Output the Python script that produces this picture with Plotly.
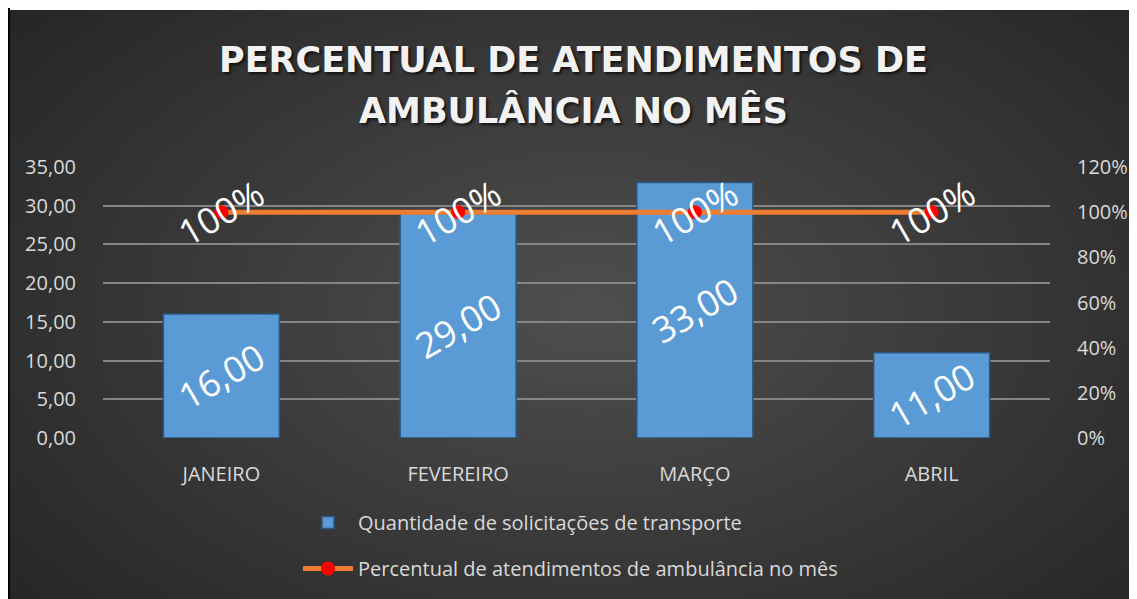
import plotly.graph_objects as go

# Chart data
months = ['JANEIRO', 'FEVEREIRO', 'MARÇO', 'ABRIL']
solicitacoes = [16, 29, 33, 11]
percentual = [1.0, 1.0, 1.0, 1.0]

bar_name = 'Quantidade de solicitações de transporte'
line_name = 'Percentual de atendimentos de ambulância no mês'
title_lines = ['PERCENTUAL DE ATENDIMENTOS DE', 'AMBULÂNCIA NO MÊS']

# Geometry: the page puts the figure 8px in from the top-left corner,
# reference pixels are shifted by 8. The figure runs a bit past the
# bottom of the window so the legend has room without pushing margins.
OFF = 8
EXTRA = 40
W, H = 1137 - OFF, 599 - OFF + EXTRA
ML, MR, MT, MB = 103 - OFF, W - (1050 - OFF), 167 - OFF, H - (438 - OFF)
PW, PH = W - ML - MR, H - MT - MB


def px_x(p):
    # reference pixel -> paper x
    return (p - OFF - ML) / PW


def px_y(p):
    # reference pixel -> paper y
    return (H - MB - (p - OFF)) / PH


fig = go.Figure()

fig.add_trace(go.Bar(
    x=months,
    y=solicitacoes,
    name=bar_name,
    legendgroup='a',
    marker=dict(color='#5b9bd5', line=dict(color='#2a5885', width=1.5)),
    texttemplate='%{y:.2f}',
    textposition='inside',
    insidetextanchor='middle',
    textangle=-30,
    constraintext='none',
    textfont=dict(family='Open Sans', size=36, color='white'),
))

fig.add_trace(go.Scatter(
    x=months,
    y=percentual,
    name=line_name,
    legendgroup='b',
    yaxis='y2',
    mode='lines+markers',
    line=dict(color='#ed7d31', width=5),
    marker=dict(color='#ff0000', size=14),
))

# Rotated labels for the line points
for m, p in zip(months, percentual):
    fig.add_annotation(
        x=m, y=p, xref='x', yref='y2',
        text=f'{p:.0%}', showarrow=False, textangle=-30,
        font=dict(family='Open Sans', size=36, color='white'),
    )

# Title, two lines placed separately for the wider line spacing
for txt, ty in zip(title_lines, [60, 110]):
    fig.add_annotation(
        x=px_x(573), y=px_y(ty), xref='paper', yref='paper',
        xanchor='center', yanchor='middle', showarrow=False, text=txt,
        font=dict(family='DejaVu Sans', size=35, color='#f2f2f2', weight='bold',
                  shadow='2px 2px 3px rgba(0,0,0,0.7)'),
    )

# Background: black left rule and dark radial-ish panel
shapes = [
    dict(type='rect', xref='paper', yref='paper',
         x0=px_x(9), x1=px_x(1150), y0=px_y(10), y1=px_y(650),
         fillcolor='#262626', line=dict(width=0), layer='below'),
    dict(type='line', xref='paper', yref='paper',
         x0=px_x(9), x1=px_x(9), y0=px_y(6), y1=px_y(650),
         line=dict(color='black', width=2), layer='below'),
]
cx, cy = 590, 310
n = 40
for i in range(n):
    s = 1 - i / n
    rx, ry = 740 * s, 450 * s
    shapes.append(dict(
        type='circle', xref='paper', yref='paper',
        x0=px_x(cx - rx), x1=px_x(cx + rx), y0=px_y(cy + ry), y1=px_y(cy - ry),
        fillcolor='rgba(255,255,255,0.0065)', line=dict(width=0), layer='below',
    ))

tick_font = dict(family='Open Sans', size=20, color='#d9d9d9')
grid = '#858585'

fig.update_layout(
    width=W, height=H,
    margin=dict(l=ML, r=MR, t=MT, b=MB, autoexpand=False),
    paper_bgcolor='white',
    plot_bgcolor='rgba(0,0,0,0)',
    separators=', ',
    shapes=shapes,
    bargap=0.51,
    xaxis=dict(
        tickfont=tick_font, showgrid=False, zeroline=False, automargin=False,
        ticks='outside', ticklen=18, tickcolor='rgba(0,0,0,0)',
    ),
    yaxis=dict(
        range=[0, 35], dtick=5, tickformat='.2f', tickfont=tick_font,
        showgrid=True, gridcolor=grid, gridwidth=2, zeroline=False, automargin=False,
        ticks='outside', ticklen=22, tickcolor='rgba(0,0,0,0)',
    ),
    yaxis2=dict(
        overlaying='y', side='right', range=[0, 1.2], dtick=0.2,
        tickformat='.0%', tickfont=tick_font, showgrid=False, zeroline=False,
        automargin=False,
        ticks='outside', ticklen=22, tickcolor='rgba(0,0,0,0)',
    ),
    legend=dict(
        x=px_x(298), xanchor='left', y=px_y(503), yanchor='top',
        orientation='v', font=tick_font, bgcolor='rgba(0,0,0,0)',
        tracegroupgap=17, itemwidth=50,
    ),
    showlegend=True,
)

fig.write_html('out.html')
